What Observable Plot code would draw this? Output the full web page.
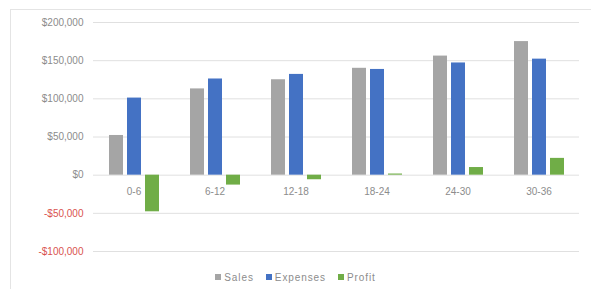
<!DOCTYPE html>
<html>
<head>
<meta charset="utf-8">
<script src="https://cdn.jsdelivr.net/npm/d3@7"></script>
<script src="https://cdn.jsdelivr.net/npm/@observablehq/plot@0.6"></script>
<style>
  html, body { margin: 0; padding: 0; background: #fff; }
  #wrap { position: relative; width: 591px; height: 289px; overflow: hidden; }
  #frame { position: absolute; left: 10px; top: 9px; width: 590px; height: 300px; border-left: 1px solid #e4e4e4; border-top: 1px solid #e4e4e4; box-sizing: border-box; pointer-events: none; }
  #legend { position: absolute; left: 0; width: 591px; top: 272px; text-align: center; font: 10px "Liberation Sans", Arial, sans-serif; color: #8c8c8c; letter-spacing: 0.9px; }
  #legend span.item { margin: 0 6px; white-space: nowrap; }
  #legend span.sw { display: inline-block; width: 6px; height: 6px; margin-right: 3px; vertical-align: 1px; }
</style>
</head>
<body>
<div id="wrap">
  <div id="chart"></div>
  <div id="frame"></div>
  <div id="legend"></div>
</div>
<script>
const categories = ["0-6", "6-12", "12-18", "18-24", "24-30", "30-36"];
const seriesNames = ["Sales", "Expenses", "Profit"];
const sales    = [52000, 113000, 125000, 140000, 156000, 175000];
const expenses = [101000, 126000, 132000, 138500, 147000, 152000];
const profit   = [-48000, -13000, -6000, 1500, 10000, 22000];
const yTicks = [-100000, -50000, 0, 50000, 100000, 150000, 200000];
const colors = ["#a5a5a5", "#4472c4", "#70ad47"];

const seriesValues = [sales, expenses, profit];
const data = [];
categories.forEach((c, i) => {
  seriesNames.forEach((s, j) => data.push({category: c, series: s, value: seriesValues[j][i]}));
});

const fmt = v => (v < 0 ? "-$" : "$") + d3.format(",")(Math.abs(v));
const font = '"Liberation Sans", Arial, sans-serif';

const chart = Plot.plot({
  width: 591,
  height: 289,
  marginLeft: 91,
  marginRight: 11,
  marginTop: 22,
  marginBottom: 38,
  style: {fontFamily: font, fontSize: "10px", background: "transparent"},
  fx: {domain: categories, padding: 0, axis: null},
  x: {domain: seriesNames, axis: null, paddingInner: 0.24, paddingOuter: 0.8},
  y: {domain: [-100000, 200000], axis: null},
  color: {domain: seriesNames, range: colors},
  marks: [
    Plot.ruleY(yTicks, {stroke: "#e0e0e0", strokeWidth: 1}),
    Plot.barY(data, {fx: "category", x: "series", y: "value", fill: "series"}),
    Plot.text(categories, {fx: d => d, y: 0, text: d => d, dy: 17, fill: "#8c8c8c", fontSize: 10, letterSpacing: 0.9}),
    Plot.axisY({
      ticks: yTicks,
      tickSize: 0,
      tickPadding: 10,
      tickFormat: fmt,
      label: null,
      fill: d => d < 0 ? "#d9534f" : "#8c8c8c",
      fontSize: 10,
      letterSpacing: 0.9,
      facetAnchor: "left"
    })
  ]
});
document.getElementById("chart").appendChild(chart);

const legend = document.getElementById("legend");
seriesNames.forEach((s, i) => {
  const item = document.createElement("span");
  item.className = "item";
  const sw = document.createElement("span");
  sw.className = "sw";
  sw.style.background = colors[i];
  item.appendChild(sw);
  item.appendChild(document.createTextNode(s));
  legend.appendChild(item);
});
</script>
</body>
</html>
